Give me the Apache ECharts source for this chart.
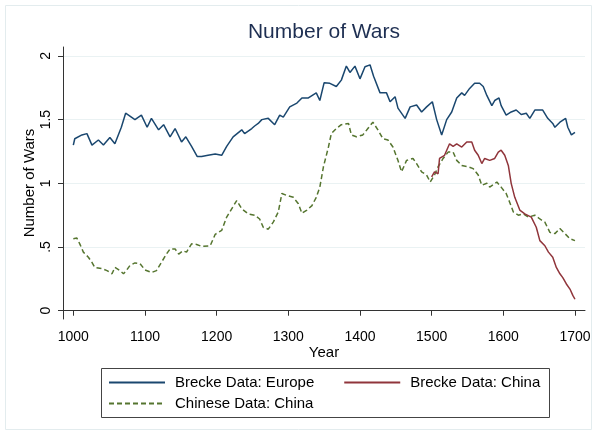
<!DOCTYPE html>
<html>
<head>
<meta charset="utf-8">
<script src="https://cdn.jsdelivr.net/npm/echarts@6/dist/echarts.min.js"></script>
<style>html,body{margin:0;padding:0;background:#fff;}#c{width:597px;height:435px;}</style>
</head>
<body>
<div id="c"></div>
<script>
const europeYears = [1000,1002,1012,1019,1026,1035,1042,1051,1058,1067,1073,1077,1086,1095,1103,1109,1119,1126,1135,1142,1151,1157,1165,1173,1179,1188,1198,1207,1214,1223,1235,1239,1249,1253,1258,1263,1272,1281,1288,1293,1302,1312,1319,1328,1339,1344,1350,1358,1367,1374,1381,1386,1393,1400,1407,1414,1419,1428,1437,1442,1449,1453,1463,1470,1479,1486,1493,1501,1507,1514,1521,1528,1535,1542,1546,1553,1560,1567,1572,1577,1584,1588,1594,1597,1604,1611,1618,1625,1632,1637,1644,1655,1662,1669,1672,1679,1687,1690,1695,1700];
const europeValues = [1.30,1.35,1.38,1.39,1.30,1.34,1.30,1.36,1.31,1.44,1.55,1.535,1.50,1.535,1.44,1.51,1.42,1.46,1.365,1.43,1.325,1.365,1.29,1.21,1.21,1.22,1.23,1.22,1.29,1.365,1.42,1.39,1.43,1.45,1.47,1.50,1.51,1.46,1.535,1.52,1.60,1.63,1.67,1.67,1.71,1.65,1.79,1.785,1.76,1.81,1.92,1.87,1.92,1.82,1.915,1.93,1.84,1.71,1.71,1.64,1.68,1.59,1.51,1.60,1.615,1.56,1.60,1.64,1.50,1.38,1.50,1.56,1.67,1.71,1.69,1.745,1.785,1.785,1.76,1.69,1.61,1.65,1.67,1.61,1.535,1.56,1.575,1.54,1.55,1.51,1.575,1.575,1.51,1.47,1.44,1.48,1.51,1.44,1.38,1.40];

const breckeChinaYears = [1500,1504,1509,1511,1518,1525,1530,1535,1542,1549,1556,1560,1565,1570,1574,1581,1588,1593,1597,1602,1607,1611,1616,1623,1630,1639,1646,1651,1658,1663,1669,1674,1679,1683,1688,1693,1697,1700];
const breckeChinaValues = [1.05,1.09,1.075,1.195,1.22,1.31,1.29,1.31,1.285,1.325,1.325,1.26,1.22,1.155,1.195,1.18,1.195,1.245,1.26,1.22,1.14,1.00,0.89,0.79,0.76,0.735,0.655,0.55,0.51,0.46,0.42,0.34,0.29,0.26,0.21,0.17,0.12,0.09];

const chineseYears = [1000,1005,1009,1014,1021,1026,1030,1040,1047,1054,1058,1065,1070,1074,1079,1086,1093,1100,1109,1116,1123,1130,1135,1142,1147,1153,1158,1165,1172,1179,1191,1198,1207,1214,1221,1228,1235,1244,1253,1260,1265,1272,1279,1286,1291,1298,1307,1314,1319,1326,1333,1339,1344,1349,1356,1360,1367,1374,1384,1388,1395,1404,1411,1418,1425,1432,1439,1446,1453,1458,1465,1474,1479,1486,1493,1498,1504,1509,1516,1523,1530,1535,1542,1551,1558,1565,1570,1577,1581,1591,1597,1604,1609,1614,1621,1628,1635,1644,1651,1658,1665,1672,1679,1686,1693,1700];
const chineseValues = [0.565,0.57,0.525,0.46,0.42,0.38,0.34,0.33,0.315,0.29,0.34,0.315,0.29,0.315,0.355,0.375,0.37,0.32,0.30,0.315,0.38,0.445,0.485,0.485,0.445,0.47,0.46,0.525,0.52,0.505,0.51,0.60,0.63,0.735,0.80,0.865,0.80,0.76,0.75,0.72,0.655,0.64,0.695,0.775,0.92,0.905,0.89,0.84,0.765,0.79,0.825,0.89,0.97,1.13,1.285,1.39,1.43,1.46,1.47,1.38,1.365,1.38,1.43,1.48,1.42,1.35,1.34,1.285,1.18,1.09,1.18,1.195,1.155,1.09,1.065,1.01,1.065,1.13,1.195,1.245,1.245,1.18,1.14,1.13,1.115,1.065,0.985,1.00,0.97,1.01,0.97,0.92,0.85,0.775,0.75,0.76,0.735,0.75,0.72,0.695,0.615,0.605,0.645,0.605,0.565,0.55];

const xTicks = [1000,1100,1200,1300,1400,1500,1600,1700];
const yTicks = [0,0.5,1,1.5,2];
const yTickLabels = ['0','.5','1','1.5','2'];

const seriesNames = ['Brecke Data: Europe','Brecke Data: China','Chinese Data: China'];

function pairs(xs, ys){ return xs.map((x,i)=>[x, ys[i]]); }

const FONT = '"Liberation Sans", Arial, sans-serif';
const chart = echarts.init(document.getElementById('c'), null, {renderer:'canvas'});
chart.setOption({
  animation:false,
  backgroundColor:'#ffffff',
  textStyle:{fontFamily:FONT},
  title:{
    text:'Number of Wars', left:324, top:22, textAlign:'center', padding:0,
    textStyle:{fontFamily:FONT, fontSize:21, fontWeight:'normal', color:'#1e2f52'}
  },
  grid:{left:63, right:12, top:47, bottom:116, containLabel:false},
  xAxis:{
    type:'value', min:985.6, max:1714,
    name:'Year', nameLocation:'middle', nameGap:26, nameMoveOverlap:false,
    nameTextStyle:{fontFamily:FONT, fontSize:15, color:'#000'},
    axisLine:{show:true, lineStyle:{color:'#333', width:1}},
    axisTick:{show:true, length:5, customValues:xTicks, lineStyle:{color:'#333'}},
    axisLabel:{customValues:xTicks, fontFamily:FONT, fontSize:14, color:'#000', margin:11,
      formatter:function(v){ return String(v); }},
    splitLine:{show:false}
  },
  yAxis:{
    type:'value', min:-0.065, max:2.07,
    name:'Number of Wars', nameLocation:'middle', nameGap:26, nameRotate:90, nameMoveOverlap:false,
    nameTextStyle:{fontFamily:FONT, fontSize:15, color:'#000'},
    axisLine:{show:true, lineStyle:{color:'#333', width:1}},
    axisTick:{show:true, length:5, customValues:yTicks, lineStyle:{color:'#333'}},
    axisLabel:{customValues:yTicks, rotate:90, fontFamily:FONT, fontSize:14, color:'#000', margin:10,
      formatter:function(v){ const i = yTicks.indexOf(v); return i>=0 ? yTickLabels[i] : String(v); }},
    splitLine:{show:true, lineStyle:{color:'#eaf2f3', width:1}}
  },
  legend:[
    {data:[seriesNames[0], seriesNames[1]], left:108, top:375, padding:0, itemWidth:56, itemHeight:14, itemGap:29,
     itemStyle:{opacity:0},
     textStyle:{fontFamily:FONT, fontSize:15, color:'#000', padding:[0,0,0,5]}},
    {data:[seriesNames[2]], left:108, top:396, padding:0, itemWidth:56, itemHeight:14,
     itemStyle:{opacity:0},
     textStyle:{fontFamily:FONT, fontSize:15, color:'#000', padding:[0,0,0,5]}}
  ],
  graphic:[
    {type:'rect', shape:{x:5.5, y:5.5, width:586, height:424}, style:{fill:'none', stroke:'#e3ecee', lineWidth:1}, silent:true},
    {type:'rect', shape:{x:101.5, y:368.5, width:448, height:49}, style:{fill:'none', stroke:'#444', lineWidth:1}, silent:true}
  ],
  series:[
    {name:seriesNames[0], type:'line', symbol:'none', data:pairs(europeYears, europeValues),
     lineStyle:{color:'#1a476f', width:1.5}, itemStyle:{color:'#1a476f'}, z:3},
    {name:seriesNames[1], type:'line', symbol:'none', data:pairs(breckeChinaYears, breckeChinaValues),
     lineStyle:{color:'#90353b', width:1.5}, itemStyle:{color:'#90353b'}, z:4},
    {name:seriesNames[2], type:'line', symbol:'none', data:pairs(chineseYears, chineseValues),
     lineStyle:{color:'#55752f', width:1.5, type:[5,3]}, itemStyle:{color:'#55752f'}, z:2}
  ]
});
</script>
</body>
</html>
